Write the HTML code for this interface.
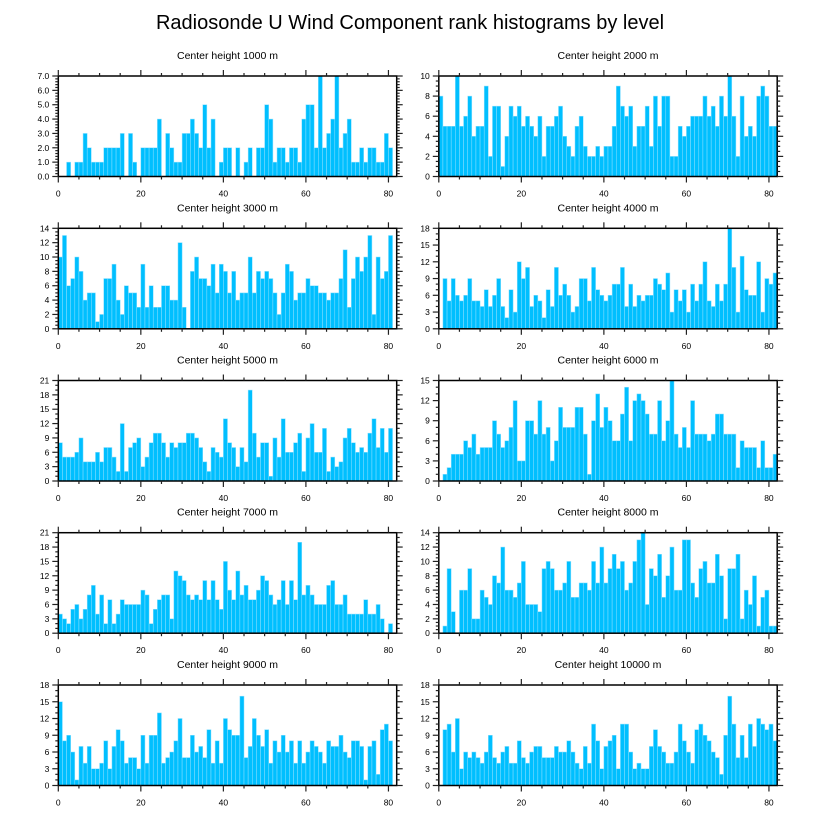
<!DOCTYPE html>
<html><head><meta charset="utf-8"><style>
body{margin:0;background:#fff;}
svg{display:block;font-family:"Liberation Sans",Arial,sans-serif;}
</style></head><body>
<svg id="chart" width="818" height="824" viewBox="0 0 818 824">
<text x="410" y="29" text-anchor="middle" font-size="20" fill="#000">Radiosonde U Wind Component rank histograms by level</text>
</svg>
<script>
const panelTitles = ["Center height 1000 m","Center height 2000 m","Center height 3000 m","Center height 4000 m","Center height 5000 m","Center height 6000 m","Center height 7000 m","Center height 8000 m","Center height 9000 m","Center height 10000 m"];
const yMaxes = [7,10,14,18,21,15,21,14,18,18];
const yMajorSteps = [1,2,2,3,3,3,3,2,3,3];
const yMinorDivs = [5,4,4,3,3,3,3,4,3,3];
const xTickLabels = [0,20,40,60,80];
const counts1000 = [0,0,1,0,1,1,3,2,1,1,1,2,2,2,2,3,0,3,1,0,2,2,2,2,4,0,3,2,1,1,3,3,4,3,2,5,2,4,0,1,2,2,0,2,0,1,2,0,2,2,5,4,1,2,2,1,2,2,1,4,5,5,2,7,2,3,4,7,2,3,4,1,1,2,1,2,2,1,1,3,2];
const counts2000 = [8,5,5,5,10,5,6,8,4,5,5,9,2,7,7,1,4,7,6,7,5,6,5,4,6,2,5,5,6,7,4,3,2,5,6,3,2,2,3,2,3,3,5,9,7,6,7,3,5,5,7,3,8,5,8,8,2,2,5,4,5,6,6,6,8,6,7,5,8,6,10,6,2,8,4,5,4,8,9,8,5,5];
const counts3000 = [10,13,6,7,10,8,4,5,5,1,2,7,7,9,4,2,6,5,5,3,9,3,6,3,3,6,6,4,4,12,3,0,8,10,7,7,6,9,5,9,8,5,8,4,5,5,10,5,8,7,8,7,5,2,5,9,8,4,5,5,7,6,6,5,5,4,5,5,7,11,3,7,10,8,10,13,2,10,7,8,13];
const counts4000 = [0,9,5,9,6,5,6,9,5,5,4,7,4,6,9,4,2,7,3,12,9,11,4,6,5,2,7,4,11,6,8,6,3,4,9,9,5,11,7,6,5,6,8,8,11,4,8,4,6,5,6,6,9,8,7,10,3,7,5,7,3,8,5,8,12,5,4,8,5,8,18,11,3,13,7,6,6,12,3,9,8,10];
const counts5000 = [8,5,5,5,6,9,4,4,4,6,4,7,7,5,2,12,2,7,8,9,3,5,8,10,10,8,5,8,7,8,8,10,10,9,7,4,2,7,6,5,13,8,7,3,7,4,19,10,5,8,8,1,9,5,13,6,6,8,10,2,9,12,6,6,11,2,5,3,4,9,11,8,6,7,6,10,13,7,11,6,11];
const counts6000 = [0,1,2,4,4,4,6,5,7,4,5,5,5,9,7,5,6,8,12,3,3,9,9,7,12,7,8,3,6,11,8,8,8,11,11,7,1,9,13,8,11,9,6,6,10,14,6,12,13,12,10,7,7,12,6,9,15,7,5,8,5,12,7,7,7,6,7,10,10,7,7,7,2,6,5,5,5,2,6,2,2,4];
const counts7000 = [4,3,2,5,6,3,5,8,10,4,8,2,7,2,4,7,6,6,6,6,9,8,2,5,7,8,8,3,13,12,11,8,7,8,7,11,7,11,7,5,15,9,7,13,8,10,7,7,9,12,11,8,6,7,11,6,11,7,19,8,10,8,6,6,6,10,11,6,6,8,4,4,4,4,7,4,4,6,3,0,2];
const counts8000 = [0,1,9,3,0,6,6,9,2,2,6,5,4,8,7,12,6,6,5,7,10,4,4,4,3,9,10,9,6,6,7,10,5,5,7,7,6,10,7,12,7,9,11,9,10,6,7,10,13,14,4,9,8,11,5,8,12,6,6,13,13,7,5,9,10,7,7,11,8,2,9,9,11,2,6,4,8,1,5,6,1,1];
const counts9000 = [15,8,9,6,1,7,4,7,3,3,4,8,3,7,10,8,4,5,5,3,9,4,9,9,13,4,5,6,8,12,5,5,9,6,7,5,10,4,8,4,12,10,9,9,16,5,7,12,9,7,10,4,8,6,9,6,8,4,8,4,6,8,7,6,4,8,7,7,9,6,5,8,8,7,1,7,8,2,10,11,8];
const counts10000 = [0,10,11,6,12,3,6,5,6,5,4,6,9,5,4,6,7,4,4,8,5,4,6,7,7,5,5,5,7,6,6,8,6,4,3,7,4,11,8,3,7,8,9,3,11,11,6,3,4,3,3,7,10,7,6,4,4,6,11,8,6,4,10,11,9,8,6,5,2,9,16,11,5,9,5,11,7,12,11,10,11,8];
const allCounts = [counts1000,counts2000,counts3000,counts4000,counts5000,counts6000,counts7000,counts8000,counts9000,counts10000];

const NS = "http://www.w3.org/2000/svg";
const svg = document.getElementById("chart");
const X_MAX = 82;
const colLeft = [58.3, 438.8];
const plotW = 338.4;
const rowTop = [76, 228.3, 380.5, 532.7, 685];
const plotH = 100.5;

function mk(tag, attrs, parent){
  const e = document.createElementNS(NS, tag);
  for (const k in attrs) e.setAttribute(k, attrs[k]);
  parent.appendChild(e);
  return e;
}
function fmt(v, p){ return p === 0 ? v.toFixed(1) : String(v); }

for (let p = 0; p < 10; p++) {
  const L = colLeft[p % 2], T = rowTop[Math.floor(p / 2)], B = T + plotH, R = L + plotW;
  const yMax = yMaxes[p];
  const xs = v => L + v / X_MAX * plotW;
  const ys = v => B - v / yMax * plotH;
  const g = mk("g", {}, svg);
  
  

  const title = mk("text", {x: (L + R) / 2, y: T - 17, "text-anchor": "middle", "font-size": "10.5", fill: "#000"}, g);
  title.textContent = panelTitles[p];
  
  

  const bars = mk("g", {}, g);
  
  
  allCounts[p].forEach((c, i) => {
    if (c <= 0) return;
    const r = mk("rect", {x: xs(i), y: ys(c), width: xs(i + 1) - xs(i), height: B - ys(c), fill: "#00bfff", stroke: "#8fe0ff", "stroke-width": "0.5"}, bars);
    
    
  });

  const frame = mk("rect", {x: L, y: T, width: plotW, height: plotH, fill: "none", stroke: "#000", "stroke-width": "1.5"}, g);
  
  

  const ticks = mk("g", {stroke: "#222", "stroke-width": "1.2"}, g);
  
  
  // x ticks
  for (let v = 0; v <= 80; v += 5) {
    const major = v % 20 === 0, len = major ? 6 : 3, x = xs(v);
    mk("line", {x1: x, y1: B, x2: x, y2: B + len}, ticks);
    mk("line", {x1: x, y1: T, x2: x, y2: T - len}, ticks);
  }
  xTickLabels.forEach(v => {
    const t = mk("text", {x: xs(v), y: B + 20, "text-anchor": "middle", "font-size": "8.5", fill: "#000"}, g);
    t.textContent = v;
    
    
  });
  // y ticks
  const st = yMajorSteps[p], mn = st / yMinorDivs[p];
  for (let k = 0; k * mn <= yMax + 1e-9; k++) {
    const v = k * mn, major = k % yMinorDivs[p] === 0, len = major ? 6 : 3, y = ys(v);
    mk("line", {x1: L, y1: y, x2: L - len, y2: y}, ticks);
    mk("line", {x1: R, y1: y, x2: R + len, y2: y}, ticks);
  }
  for (let v = 0; v <= yMax + 1e-9; v += st) {
    const t = mk("text", {x: L - 9, y: ys(v) + 3, "text-anchor": "end", "font-size": "8.5", fill: "#000"}, g);
    t.textContent = fmt(v, p);
    
    
  }
}
</script>
</body></html>
